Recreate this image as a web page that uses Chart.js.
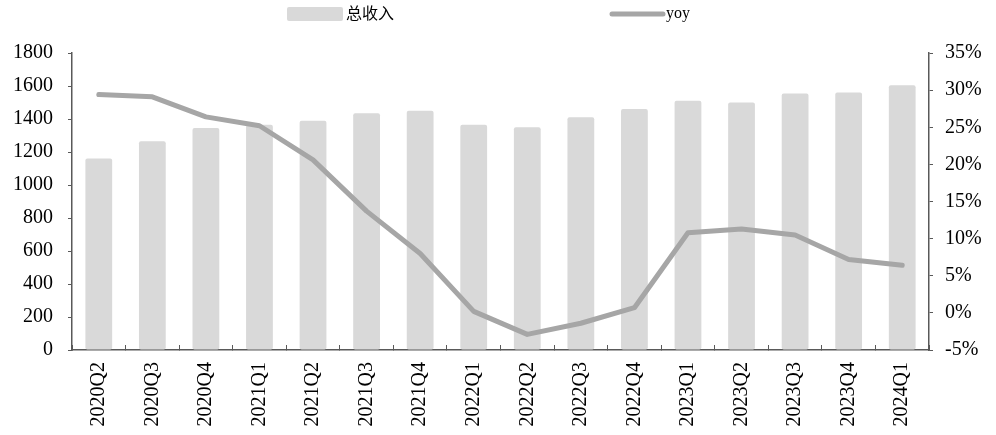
<!DOCTYPE html>
<html>
<head>
<meta charset="utf-8">
<script src="https://cdn.jsdelivr.net/npm/chart.js@4.4.1/dist/chart.umd.min.js"></script>
<style>
  html, body { margin: 0; padding: 0; background: #fff; }
  #wrap { width: 996px; height: 435px; }
</style>
</head>
<body>
<div id="wrap"><canvas id="revChart" width="996" height="435"></canvas></div>
<script>
// quarterly total revenue and its year-on-year growth
const quarters = ['2020Q2', '2020Q3', '2020Q4', '2021Q1', '2021Q2', '2021Q3', '2021Q4', '2022Q1',
                  '2022Q2', '2022Q3', '2022Q4', '2023Q1', '2023Q2', '2023Q3', '2023Q4', '2024Q1'];
const revenue = [1160, 1265, 1345, 1365, 1390, 1435, 1450, 1365, 1350, 1410, 1460, 1510, 1500, 1555, 1560, 1605];
const yoy = [29.4, 29.1, 26.4, 25.2, 20.6, 13.7, 8.0, 0.2, -2.9, -1.4, 0.7, 10.8, 11.3, 10.5, 7.2, 6.4];
const revenueTicks = [0, 200, 400, 600, 800, 1000, 1200, 1400, 1600, 1800];
const yoyTicks = [-5, 0, 5, 10, 15, 20, 25, 30, 35];

const barLabel = '总收入';
const lineLabel = 'yoy';

const SERIF = '"Liberation Serif", "Times New Roman", "Noto Sans CJK SC", serif';
const AXIS = '#595959';

Chart.defaults.font.family = SERIF;
Chart.defaults.font.size = 20;
Chart.defaults.color = '#000';

// legend drawn by hand so the two entries can sit far apart
const topLegend = {
  id: 'topLegend',
  afterDraw(chart) {
    const ctx = chart.ctx;
    const line = chart.data.datasets[0];
    const bar = chart.data.datasets[1];
    ctx.save();
    ctx.font = '16px ' + SERIF;
    ctx.textBaseline = 'middle';
    ctx.textAlign = 'left';

    ctx.fillStyle = bar.backgroundColor;
    ctx.beginPath();
    ctx.roundRect(287, 7, 56, 14, 2);
    ctx.fill();
    ctx.fillStyle = '#000';
    ctx.fillText(bar.label, 346, 15);

    ctx.strokeStyle = line.borderColor;
    ctx.lineWidth = 5;
    ctx.lineCap = 'round';
    ctx.beginPath();
    ctx.moveTo(612, 14);
    ctx.lineTo(663, 14);
    ctx.stroke();
    ctx.fillStyle = '#000';
    ctx.fillText(line.label, 666, 14);
    ctx.restore();
  }
};

new Chart(document.getElementById('revChart'), {
  data: {
    labels: quarters,
    datasets: [
      {
        type: 'line',
        label: lineLabel,
        data: yoy,
        yAxisID: 'y1',
        borderColor: '#a6a6a6',
        borderWidth: 5,
        borderCapStyle: 'round',
        borderJoinStyle: 'round',
        pointRadius: 0,
        tension: 0
      },
      {
        type: 'bar',
        label: barLabel,
        data: revenue,
        yAxisID: 'y',
        backgroundColor: '#d9d9d9',
        borderRadius: 2,
        borderSkipped: false,
        barPercentage: 0.5,
        categoryPercentage: 1
      }
    ]
  },
  options: {
    responsive: false,
    animation: false,
    devicePixelRatio: 1,
    layout: { padding: { top: 53, left: 0, right: 0, bottom: 0 } },
    plugins: {
      legend: { display: false },
      tooltip: { enabled: false }
    },
    scales: {
      x: {
        grid: { drawOnChartArea: false, offset: true, tickLength: -5, color: AXIS },
        border: { color: AXIS, width: 1.5 },
        ticks: { minRotation: 90, maxRotation: 90, autoSkip: false, padding: 17 },
        afterFit: s => { s.height = 85; }
      },
      y: {
        position: 'left',
        min: 0,
        max: 1800,
        afterBuildTicks: s => { s.ticks = revenueTicks.map(v => ({ value: v })); },
        grid: { drawOnChartArea: false, tickLength: 4, color: AXIS },
        border: { color: AXIS, width: 1.5 },
        ticks: { padding: 15, callback: v => String(v) },
        afterFit: s => { s.width = 72; }
      },
      y1: {
        position: 'right',
        min: -5,
        max: 35,
        afterBuildTicks: s => { s.ticks = yoyTicks.map(v => ({ value: v })); },
        grid: { drawOnChartArea: false, tickLength: 4, color: AXIS },
        border: { color: AXIS, width: 1.5 },
        ticks: { padding: 12, callback: v => v + '%' },
        afterFit: s => { s.width = 67; }
      }
    }
  },
  plugins: [topLegend]
});
</script>
</body>
</html>
